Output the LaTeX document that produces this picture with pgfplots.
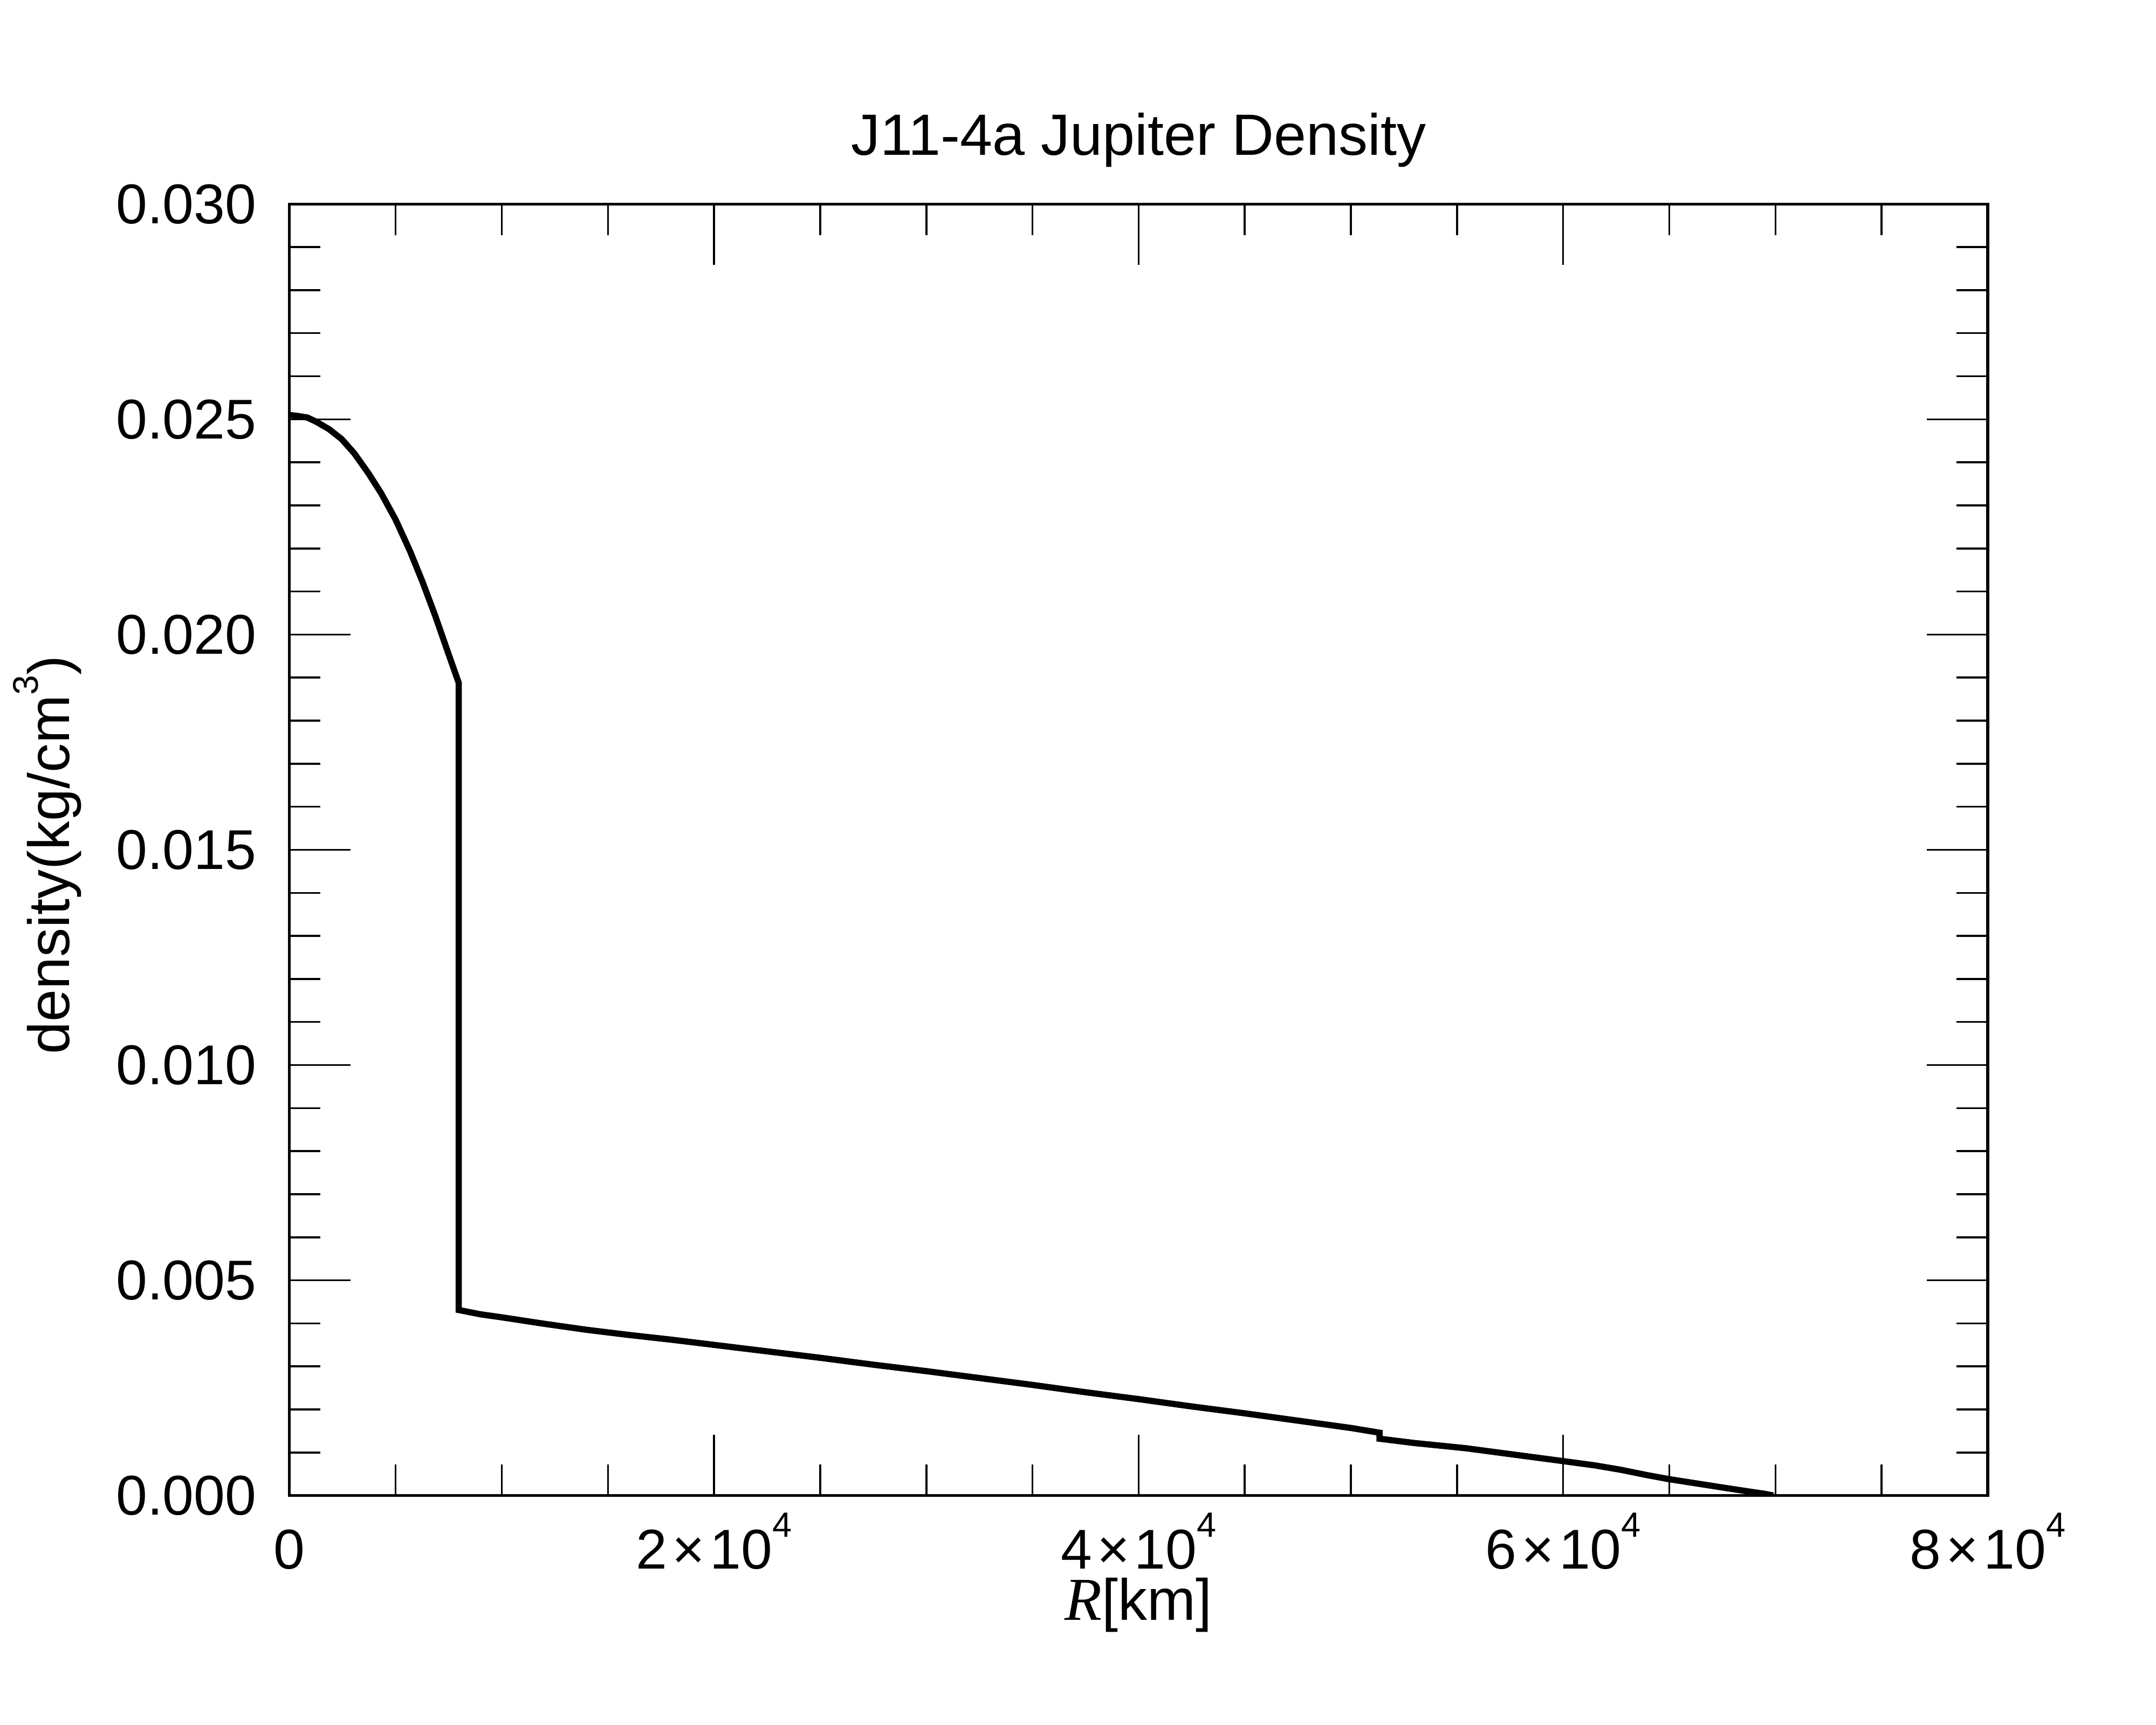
\documentclass[border=0pt]{standalone}
\usepackage{fontspec}
\setmainfont{Liberation Sans}
\newfontfamily\timesfont{Liberation Serif}
\usepackage{pgfplots}
\pgfplotsset{compat=1.18}
\newcommand{\xlab}[1]{#1\hspace{0.9pt}×\hspace{0.9pt}10\raisebox{5.9pt}{\fontsize{6.5}{7}\selectfont 4}}
\begin{document}
\begin{tikzpicture}
\begin{axis}[
  scale only axis, width=315.08pt, height=239.56pt,
  xmin=0, xmax=80000, ymin=0, ymax=0.03,
  line width=0.53pt,
  tick style={line width=0.35pt, black},
  major tick length=11.3pt, minor tick length=5.77pt,
  xtick={0,20000,40000,60000,80000},
  xticklabels={0,\xlab{2},\xlab{4},\xlab{6},\xlab{8}},
  minor x tick num=3,
  ytick={0,0.005,0.01,0.015,0.02,0.025,0.03},
  yticklabels={0.000,0.005,0.010,0.015,0.020,0.025,0.030},
  minor y tick num=4,
  scaled x ticks=false, scaled y ticks=false,
  tick label style={font=\fontsize{10.4}{12}\selectfont, inner sep=0pt},
  xticklabel style={anchor=base, yshift=-13.6pt},
  yticklabel style={anchor=east, xshift=-5.88pt},
  every axis title shift=0pt,
  title={J11-4a Jupiter Density},
  title style={font=\fontsize{10.8}{13}\selectfont, at={(axis description cs:0.5,1.0381)}, anchor=base, inner sep=0pt},
  xlabel={{\fontsize{11.3}{13}\timesfont\itshape R}[km]},
  xlabel style={font=\fontsize{10.8}{13}\selectfont, at={(axis description cs:0.5,-0.0965)}, anchor=base, yshift=0pt, inner sep=0pt},
  ylabel={density(kg/cm\raisebox{5.8pt}{\fontsize{6.6}{7}\selectfont 3})},
  ylabel style={font=\fontsize{10.8}{13}\selectfont, at={(axis description cs:-0.1298,0.496)}, anchor=base, inner sep=0pt},
]
\addplot[black, line width=1.15pt, mark=none] table {
x y
0 0.02510
339 0.02508
847 0.02504
1271 0.02494
1864 0.02477
2457 0.02454
3050 0.02421
3727 0.02374
4320 0.02328
4998 0.02267
5676 0.02194
6269 0.02122
6862 0.02044
7455 0.01960
7970 0.01888
7970 0.00431
9000 0.00421
10000 0.00414
12000 0.00399
14000 0.00385
16000 0.00373
18000 0.00362
20000 0.00350
22500 0.00335
25000 0.00320
27500 0.00304
30000 0.00289
32500 0.00273
35000 0.00257
37500 0.00240
40000 0.00224
42500 0.00207
45000 0.00191
47500 0.00174
50000 0.00157
51350 0.00146
51350 0.00132
53000 0.00122
55400 0.00110
57700 0.00095
60000 0.00080
61500 0.00070
62700 0.00060
64000 0.00047
65000 0.00038
66300 0.00028
67600 0.00018
68800 0.00009
69500 0.00004
69900 0.00000
};
\end{axis}
\pgfresetboundingbox
\path ([shift={(-53.71pt,-42.55pt)}]current axis.south west) rectangle ([shift={(31.22pt,37.85pt)}]current axis.north east);
\end{tikzpicture}
\end{document}
